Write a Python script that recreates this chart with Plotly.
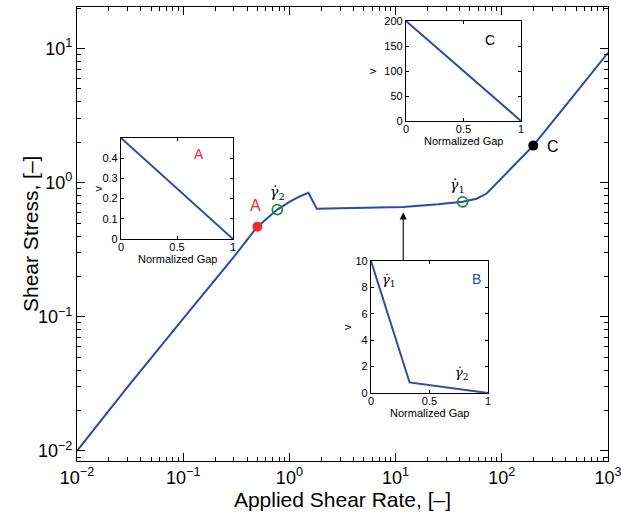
import plotly.graph_objects as go
import numpy as np

# ---- main curve data ----
rate = [0.01, 0.03, 0.1, 0.2, 0.3, 0.5, 0.77, 1.0, 1.25, 1.51, 1.81, 3.0, 6.0, 11.8, 25, 42.8, 58, 72, 96, 140, 198, 500, 1000]
stress = [0.01, 0.03, 0.097, 0.19, 0.28, 0.47, 0.63, 0.72, 0.79, 0.84, 0.64, 0.645, 0.652, 0.66, 0.69, 0.72, 0.76, 0.83, 1.05, 1.42, 1.89, 4.7, 9.3]

pt_A = (0.5, 0.47)
pt_g2 = (0.77, 0.63)
pt_g1 = (42.8, 0.72)
pt_C = (198, 1.89)
arrow_x = 11.8
arrow_head_y = 0.60
arrow_tail_y = 0.256

# ---- inset data ----
gapA = [0, 1]; vA = [0.5, 0]
gapB = [0, 0.33, 1]; vB = [10, 0.8, 0]
gapC = [0, 1]; vC = [200, 0]

major_vals = [1e-2, 1e-1, 1e0, 1e1, 1e2, 1e3]
major_text = ["10<sup>−2</sup>", "10<sup>−1</sup>", "10<sup>0</sup>", "10<sup>1</sup>", "10<sup>2</sup>", "10<sup>3</sup>"]
minor_x = [k * 10.0 ** e for e in range(-2, 3) for k in range(2, 10)]
minor_y = [k * 10.0 ** e for e in range(-3, 2) for k in range(2, 10)]

BLUE = "#2B4BA8"
GREEN = "#1E8A3A"
RED = "#F0282D"
FONT = "Liberation Sans, Arial, sans-serif"

fig = go.Figure()
fig.add_trace(go.Scatter(x=rate, y=stress, mode="lines", line=dict(color=BLUE, width=2), showlegend=False))
fig.add_trace(go.Scatter(x=[pt_A[0]], y=[pt_A[1]], mode="markers", marker=dict(color=RED, size=10), showlegend=False))
fig.add_trace(go.Scatter(x=[pt_C[0]], y=[pt_C[1]], mode="markers", marker=dict(color="black", size=10), showlegend=False))
fig.add_trace(go.Scatter(x=[pt_g2[0], pt_g1[0]], y=[pt_g2[1], pt_g1[1]], mode="markers",
                         marker=dict(color="rgba(0,0,0,0)", size=10, line=dict(color=GREEN, width=1.8)), showlegend=False))

L, R, T, B = 77, 13, 7, 56
W, H = 621, 517
pw, ph = W - L - R, H - T - B

def xd(p1, p2):
    return [(p1 - L) / pw, (p2 - L) / pw]

def yd(top, bot):
    return [(H - B - bot) / ph, (H - B - top) / ph]

tickfont_main = dict(family=FONT, size=18, color="black")
common = dict(ticks="inside", ticklen=8, tickcolor="black", showline=True, linecolor="black", linewidth=1.2,
              mirror="allticks", showgrid=False, zeroline=False, tickfont=tickfont_main, automargin=False,
              ticklabeloverflow="allow")
fig.update_layout(
    width=W, height=H, margin=dict(l=L, r=R, t=T, b=B, autoexpand=False),
    plot_bgcolor="white", paper_bgcolor="white",
    font=dict(family=FONT, color="black"),
    xaxis=dict(type="log", range=[-2, 3.0002], tickvals=major_vals, ticktext=major_text,
               minor=dict(ticks="inside", ticklen=4, tickcolor="black", showgrid=False, tickvals=minor_x),
               title=dict(text="Applied Shear Rate, [–]", font=dict(size=21), standoff=4), **common),
    yaxis=dict(type="log", range=[-2.075, 1.31], tickvals=major_vals[:4], ticktext=major_text[:4],
               minor=dict(ticks="inside", ticklen=4, tickcolor="black", showgrid=False, tickvals=minor_y),
               **common),
)

insets = [
    ("x2", "y2", gapA, vA, xd(121, 233), yd(138, 239), [0, 0.5], [0, 0.1, 0.2, 0.3, 0.4], ["0", "0.1", "0.2", "0.3", "0.4"], -24),
    ("x3", "y3", gapB, vB, xd(371, 488), yd(261, 393), [0, 10], [0, 2, 4, 6, 8, 10], None, -24),
    ("x4", "y4", gapC, vC, xd(406, 521), yd(21, 121), [0, 200], [0, 50, 100, 150, 200], None, -34),
]
small = dict(family=FONT, size=11, color="black")
ann = []
for i, (xa, ya, gx, gv, dx, dy, yr, ytv, ytt, vshift) in enumerate(insets):
    n = i + 2
    fig.add_trace(go.Scatter(x=gx, y=gv, mode="lines", line=dict(color=BLUE, width=2), xaxis=xa, yaxis=ya, showlegend=False))
    fig.layout[f"xaxis{n}"] = dict(domain=dx, anchor=ya, range=[0, 1], tickvals=[0, 0.5, 1], ticktext=["0", "0.5", "1"],
                                   ticks="inside", ticklen=3, tickcolor="black", showline=True, linecolor="black", linewidth=1.2,
                                   mirror="allticks", showgrid=False, zeroline=False, tickfont=small, automargin=False,
                                   ticklabelstandoff=-2)
    yax = dict(domain=dy, anchor=xa, range=yr, tickvals=ytv,
               ticks="inside", ticklen=3, tickcolor="black", showline=True, linecolor="black", linewidth=1.2,
               mirror="allticks", showgrid=False, zeroline=False, tickfont=small, automargin=False)
    if ytt:
        yax["ticktext"] = ytt
    fig.layout[f"yaxis{n}"] = yax
    ann.append(dict(x=0.5, y=0, xref=f"{xa} domain", yref=f"{ya} domain", text="Normalized Gap", showarrow=False,
                    font=small, xanchor="center", yanchor="middle", yshift=-20))
    ann.append(dict(x=0, y=0.5, xref=f"{xa} domain", yref=f"{ya} domain", text="v", showarrow=False,
                    font=small, textangle=-90, xanchor="center", yanchor="middle", xshift=vshift))

# y axis title
ann.append(dict(x=(30 - L) / pw, y=0.5, xref="paper", yref="paper", text="Shear Stress, [–]", showarrow=False,
                font=dict(size=21, color="black"), textangle=-90, xanchor="center", yanchor="middle"))
# main plot labels
ann.append(dict(x=np.log10(pt_A[0]), y=np.log10(pt_A[1]), xref="x", yref="y", text="A", showarrow=False,
                font=dict(size=16, color=RED), yshift=21, xshift=-2))
ann.append(dict(x=np.log10(pt_C[0]), y=np.log10(pt_C[1]), xref="x", yref="y", text="C", showarrow=False,
                font=dict(size=16, color="black"), xshift=20, yshift=-1))
ann.append(dict(x=np.log10(pt_g2[0]), y=np.log10(pt_g2[1]), xref="x", yref="y", text="<i>γ̇</i><sub>2</sub>", showarrow=False,
                font=dict(size=14, color="black", family="DejaVu Serif, serif"), yshift=17, xshift=0))
ann.append(dict(x=np.log10(pt_g1[0]), y=np.log10(pt_g1[1]), xref="x", yref="y", text="<i>γ̇</i><sub>1</sub>", showarrow=False,
                font=dict(size=14, color="black", family="DejaVu Serif, serif"), yshift=16, xshift=-5))
# arrow
ann.append(dict(x=np.log10(arrow_x), y=np.log10(arrow_head_y), xref="x", yref="y",
                ax=np.log10(arrow_x), ay=np.log10(arrow_tail_y), axref="x", ayref="y",
                text="", showarrow=True, arrowhead=2, arrowsize=1.3, arrowwidth=1.1, arrowcolor="black"))
# inset labels
ann.append(dict(x=0.70, y=0.42, xref="x2", yref="y2", text="A", showarrow=False, font=dict(size=14, color=RED)))
ann.append(dict(x=0.90, y=8.6, xref="x3", yref="y3", text="B", showarrow=False, font=dict(size=14, color=BLUE)))
ann.append(dict(x=0.15, y=8.5, xref="x3", yref="y3", text="<i>γ̇</i><sub>1</sub>", showarrow=False,
                font=dict(size=13, color="black", family="DejaVu Serif, serif")))
ann.append(dict(x=0.78, y=1.5, xref="x3", yref="y3", text="<i>γ̇</i><sub>2</sub>", showarrow=False,
                font=dict(size=13, color="black", family="DejaVu Serif, serif")))
ann.append(dict(x=0.73, y=163, xref="x4", yref="y4", text="C", showarrow=False, font=dict(size=14, color="black")))
fig.update_layout(annotations=ann)

fig.write_html("out.html")
